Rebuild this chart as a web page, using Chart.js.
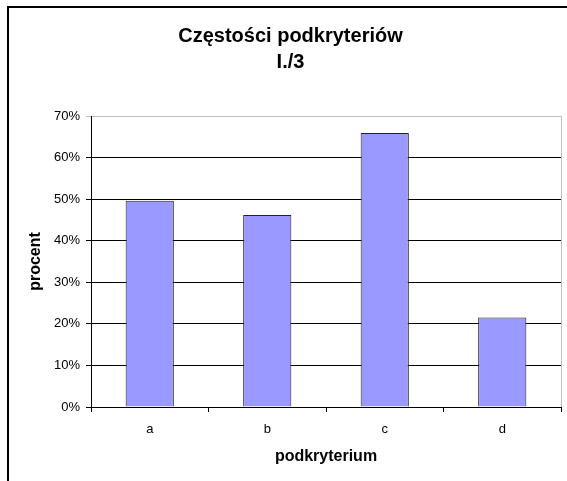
<!DOCTYPE html>
<html>
<head>
<meta charset="utf-8">
<script src="https://cdn.jsdelivr.net/npm/chart.js@4/dist/chart.umd.min.js"></script>
<style>
  html, body { margin: 0; padding: 0; background: #fff; }
  #wrap { width: 567px; height: 481px; }
</style>
</head>
<body>
<div id="wrap"><canvas id="freqChart" width="567" height="481"></canvas></div>
<script>
const categories = ["a", "b", "c", "d"];
const percents = [49.6, 46.2, 65.9, 21.5];
const yTicks = [0, 10, 20, 30, 40, 50, 60, 70];

const FONT = "'Liberation Sans', Arial, sans-serif";

// frame around the whole chart (left and top edges) plus the grey right edge of the plot area
const framePlugin = {
    id: "frame",
    beforeDraw(chart) {
        const c = chart.ctx;
        c.save();
        c.strokeStyle = "#000";
        c.lineWidth = 2;
        c.beginPath();
        c.moveTo(8, 481);
        c.lineTo(8, 7);
        c.lineTo(567, 7);
        c.stroke();
        c.restore();
    },
    afterDatasetsDraw(chart) {
        const a = chart.chartArea;
        const c = chart.ctx;
        c.save();
        c.strokeStyle = "#c0c0c0";
        c.lineWidth = 1;
        c.beginPath();
        c.moveTo(Math.round(a.right) + 0.5, a.top);
        c.lineTo(Math.round(a.right) + 0.5, a.bottom);
        c.stroke();
        c.restore();
    }
};

new Chart(document.getElementById("freqChart"), {
    type: "bar",
    data: {
        labels: categories,
        datasets: [{
            label: "procent",
            data: percents,
            backgroundColor: "#9999FF",
            borderColor: "#222",
            borderWidth: 1,
            barPercentage: 0.41,
            categoryPercentage: 1
        }]
    },
    options: {
        responsive: false,
        animation: false,
        layout: { padding: { left: 20, right: 6, top: 0, bottom: 0 } },
        plugins: {
            legend: { display: false },
            tooltip: { enabled: false },
            title: {
                display: true,
                text: ["Częstości podkryteriów", "I./3"],
                color: "#000",
                font: { family: FONT, size: 20, weight: "bold", lineHeight: 1.3 },
                padding: { top: 23, bottom: 41 }
            }
        },
        scales: {
            x: {
                offset: true,
                grid: { offset: true, drawOnChartArea: false, drawTicks: true, tickLength: 5, color: "#000" },
                border: { color: "#000" },
                ticks: { color: "#000", font: { family: FONT, size: 13 }, padding: 10 },
                title: {
                    display: true, text: "podkryterium", color: "#000",
                    font: { family: FONT, size: 16, weight: "bold" },
                    padding: { top: 10, bottom: 15 }
                },
                afterFit: s => { s.height = 74; }
            },
            y: {
                min: 0, max: 70,
                afterBuildTicks: s => { s.ticks = yTicks.map(v => ({ value: v })); },
                grid: {
                    tickLength: 5,
                    color: ctx => ctx.tick && ctx.tick.value === 70 ? "#c0c0c0" : "#000"
                },
                border: { color: "#000" },
                ticks: {
                    color: "#000", font: { family: FONT, size: 13 }, padding: 6,
                    callback: v => v + "%"
                },
                title: {
                    display: true, text: "procent", color: "#000",
                    font: { family: FONT, size: 16, weight: "bold" },
                    padding: { top: 6, bottom: 0 }
                },
                afterFit: s => { s.width = 71; }
            }
        }
    },
    plugins: [framePlugin]
});
</script>
</body>
</html>
